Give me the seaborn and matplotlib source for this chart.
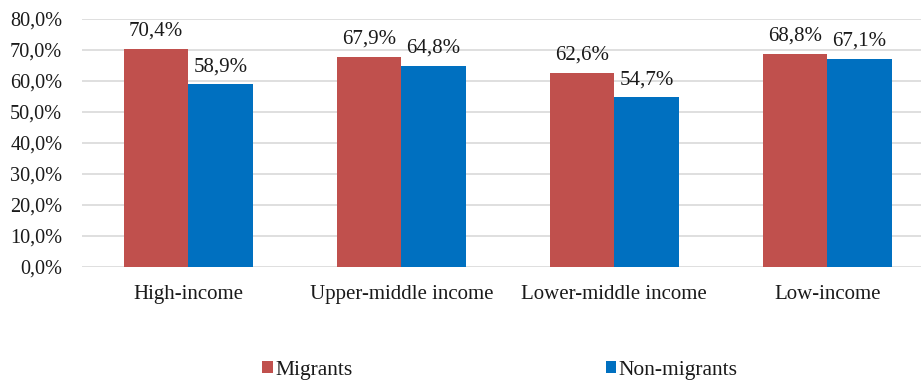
import matplotlib
matplotlib.use("Agg")
import matplotlib.pyplot as plt
import seaborn as sns
import pandas as pd
from matplotlib.patches import Patch
from matplotlib.font_manager import FontProperties

categories = ["High-income", "Upper-middle income", "Lower-middle income", "Low-income"]
migrants = [70.4, 67.9, 62.6, 68.8]
non_migrants = [58.9, 64.8, 54.7, 67.1]
series = ["Migrants", "Non-migrants"]
colors = ["#C0504D", "#0070C0"]
yticks = [0, 10, 20, 30, 40, 50, 60, 70, 80]

df = pd.DataFrame({
    "category": categories * 2,
    "value": migrants + non_migrants,
    "group": [series[0]] * 4 + [series[1]] * 4,
})

sns.set_theme(style="white")
plt.rcParams["font.family"] = ["Liberation Serif", "DejaVu Serif"]
plt.rcParams["font.serif"] = ["Liberation Serif", "DejaVu Serif"]
FS = 15


def serif(size=FS):
    return FontProperties(family="Liberation Serif", size=size)


fig = plt.figure(figsize=(9.22, 3.83), dpi=100)
ax = fig.add_axes([82 / 922, 1 - 267 / 383, (921 - 82) / 922, (267 - 19) / 383])

sns.barplot(data=df, x="category", y="value", hue="group", palette=colors,
            width=0.606, gap=0, ax=ax, legend=False, saturation=1, linewidth=0)

for container, vals in zip(ax.containers, [migrants, non_migrants]):
    labels = [f"{v:.1f}%".replace(".", ",") for v in vals]
    ax.bar_label(container, labels=labels, padding=6, fontproperties=serif(), color="#1a1a1a")

ax.set_ylim(0, 80)
ax.set_xlim(-0.5, 3.44)
ax.set_yticks(yticks)
ax.set_yticklabels([f"{t:.1f}%".replace(".", ",") for t in yticks])
for lbl in ax.get_xticklabels():
    lbl.set_fontproperties(serif())
    lbl.set_color("#1a1a1a")
for lbl in ax.get_yticklabels():
    lbl.set_fontproperties(serif(14.6))
    lbl.set_color("#1a1a1a")
ax.tick_params(axis="x", pad=13, length=0)
ax.tick_params(axis="y", length=0, pad=14.2)
ax.set_xlabel("")
ax.set_ylabel("")
ax.grid(axis="y", color="#D9D9D9", linewidth=1.2)
ax.set_axisbelow(True)
for s in ax.spines.values():
    s.set_visible(False)

handles = [Patch(facecolor=c, edgecolor="none") for c in colors]
leg = fig.legend(handles, series, loc="center left", bbox_to_anchor=(262 / 922, 1 - 370 / 383),
                 ncol=2, frameon=False, prop=serif(15.5), handlelength=0.5, handleheight=0.5,
                 handletextpad=0.12, columnspacing=11.75, borderpad=0, borderaxespad=0)
for t in leg.get_texts():
    t.set_color("#1a1a1a")

fig.savefig("out.png", dpi=100)
